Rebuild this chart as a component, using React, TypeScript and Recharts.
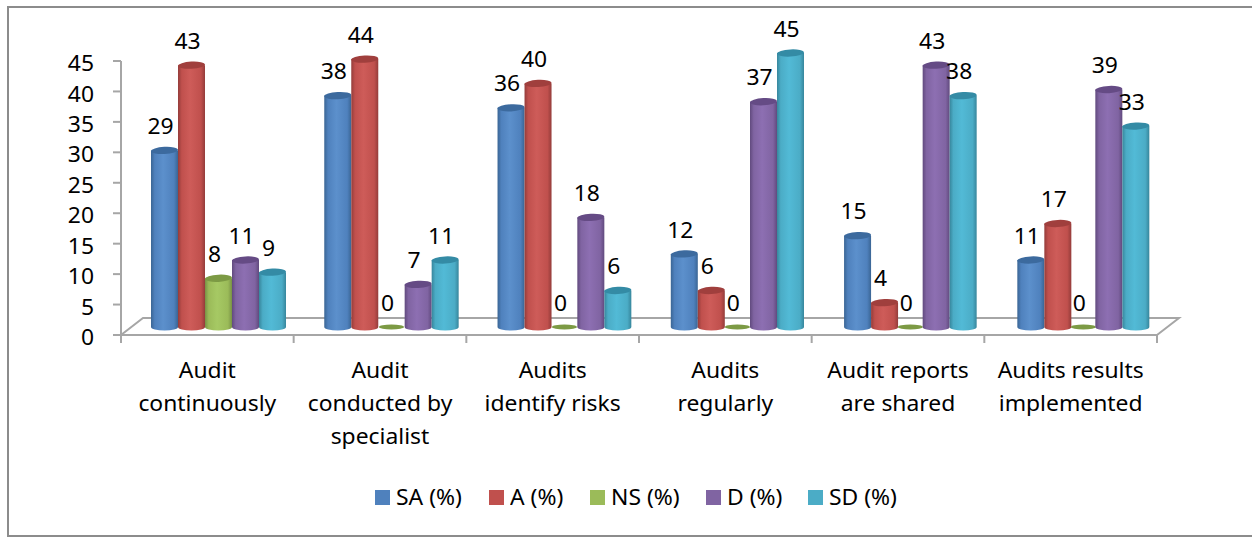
import React from "react";
import { BarChart, Bar, XAxis, YAxis, Legend, LabelList, Customized } from "recharts";

const categories = [
  "Audit\ncontinuously",
  "Audit\nconducted by\nspecialist",
  "Audits\nidentify risks",
  "Audits\nregularly",
  "Audit reports\nare shared",
  "Audits results\nimplemented",
];
const saValues = [29, 38, 36, 12, 15, 11];
const aValues = [43, 44, 40, 6, 4, 17];
const nsValues = [8, 0, 0, 0, 0, 0];
const dValues = [11, 7, 18, 37, 43, 39];
const sdValues = [9, 11, 6, 45, 38, 33];
const yTicks = [0, 5, 10, 15, 20, 25, 30, 35, 40, 45];

const seriesDefs = [
  { key: "sa", name: "SA (%)", values: saValues, color: "#4F81BD", light: "#5C90CC", dark: "#3A6594", top: "#3C6A9E", lean: 0.6 },
  { key: "a", name: "A (%)", values: aValues, color: "#C0504D", light: "#CE5C59", dark: "#943C3A", top: "#A03F3D", lean: 0.6 },
  { key: "ns", name: "NS (%)", values: nsValues, color: "#9BBB59", light: "#A6C964", dark: "#789145", top: "#7C9A44", lean: 0.3 },
  { key: "d", name: "D (%)", values: dValues, color: "#8064A2", light: "#8D6FB2", dark: "#614A7E", top: "#654B85", lean: 0 },
  { key: "sd", name: "SD (%)", values: sdValues, color: "#4BACC6", light: "#52BAD6", dark: "#37869C", top: "#348BA5", lean: 0 },
];

const data = categories.map((name, i) => {
  const row: Record<string, any> = { name };
  seriesDefs.forEach((s) => (row[s.key] = s.values[i]));
  return row;
});

const W = 1252;
const H = 537;
const PLOT = { left: 121, top: 61, right: 1157, bottom: 335 };
const DX = 11;
const DY = -8;
const BACK_X = 22;
const BACK_Y = -17;
const FONT = "'Noto Sans', sans-serif";
const FS = 21;
const SX = 1.09;
const AXIS = "#A6A6A6";
const LEGEND_WIDTHS = [114, 101, 116, 102, 120];

const StretchText = ({ x, y, anchor = "middle", children }: any) => (
  <text
    transform={`translate(${x} ${y}) scale(${SX} 1)`}
    textAnchor={anchor}
    dominantBaseline="central"
    fontFamily={FONT}
    fontSize={FS}
    fill="#000"
  >
    {children}
  </text>
);

const Cylinder = (def: any) => (props: any) => {
  const { x, y, width, height, index } = props;
  const cx = x + width / 2 + DX + def.lean * index;
  const rx = width / 2;
  const ry = 3.6;
  const topY = y + DY;
  const botY = y + height + DY;
  if (!height || height <= 0) {
    return <ellipse cx={cx} cy={botY} rx={rx - 1} ry={2.4} fill={def.top} />;
  }
  return (
    <g>
      <path
        d={`M${cx - rx},${topY} L${cx - rx},${botY} A${rx},${ry} 0 0 0 ${cx + rx},${botY} L${cx + rx},${topY} Z`}
        fill={`url(#grad-${def.key})`}
      />
      <ellipse cx={cx} cy={topY} rx={rx} ry={ry} fill={def.top} transform={`rotate(-3 ${cx} ${topY})`} />
    </g>
  );
};

const BarValueLabel = (def: any) => (props: any) => {
  const { x, y, width, value, index } = props;
  return (
    <StretchText x={x + width / 2 + DX - 4 + def.lean * index} y={y + DY - 24.5}>
      {value}
    </StretchText>
  );
};

const CategoryTick = (props: any) => {
  const { x, y, payload } = props;
  const lines = String(payload.value).split("\n");
  return (
    <g>
      {lines.map((l: string, i: number) => (
        <StretchText key={i} x={x} y={y + 25 + i * 33}>
          {l}
        </StretchText>
      ))}
    </g>
  );
};

const ValueTick = (props: any) => {
  const { y, payload } = props;
  return (
    <StretchText x={94} y={y + 2} anchor="end">
      {payload.value}
    </StretchText>
  );
};

const Floor = () => {
  const { left, right, bottom } = PLOT;
  const step = (right - left) / categories.length;
  return (
    <g>
      <defs>
        {seriesDefs.map((s) => (
          <linearGradient key={s.key} id={`grad-${s.key}`} x1="0" y1="0" x2="1" y2="0">
            <stop offset="0" stopColor={s.dark} />
            <stop offset="0.14" stopColor={s.color} />
            <stop offset="0.45" stopColor={s.light} />
            <stop offset="0.85" stopColor={s.color} />
            <stop offset="1" stopColor={s.dark} />
          </linearGradient>
        ))}
      </defs>
      <polyline
        points={`${left},${bottom} ${left + BACK_X},${bottom + BACK_Y} ${right + BACK_X},${bottom + BACK_Y} ${right},${bottom}`}
        fill="none"
        stroke={AXIS}
        strokeWidth={2}
      />
      {[...categories, ""].map((_, i) => (
        <line
          key={i}
          x1={left + i * step}
          x2={left + i * step}
          y1={bottom}
          y2={bottom + 8}
          stroke={AXIS}
          strokeWidth={2}
        />
      ))}
    </g>
  );
};

const LegendContent = (props: any) => (
  <div style={{ display: "flex", paddingLeft: 375, height: 20, alignItems: "center", fontFamily: FONT, fontSize: FS }}>
    {(props.payload || []).map((p: any, i: number) => (
      <div key={p.value} style={{ display: "flex", alignItems: "center", width: LEGEND_WIDTHS[i], flex: "none" }}>
        <span style={{ width: 15, height: 15, background: p.color, marginRight: 6, display: "inline-block", flex: "none" }} />
        <span
          style={{
            color: "#000",
            lineHeight: "20px",
            whiteSpace: "nowrap",
            display: "inline-block",
            transform: `scaleX(${SX})`,
            transformOrigin: "left center",
          }}
        >
          {p.value}
        </span>
      </div>
    ))}
  </div>
);

export default function App() {
  return (
    <div style={{ position: "absolute", left: 0, top: 0, width: W, height: H, background: "#fff", overflow: "hidden" }}>
      <div style={{ position: "absolute", left: 7, top: 6, right: -6, bottom: 0, border: "2px solid #8C8C8C", boxSizing: "border-box" }} />
      <BarChart
        width={W}
        height={H}
        data={data}
        margin={{ top: PLOT.top, right: W - PLOT.right, left: 0, bottom: 30 }}
        barGap={0}
        barSize={27}
        style={{ position: "absolute", left: 0, top: 0 }}
      >
        <Customized component={Floor} />
        <XAxis
          dataKey="name"
          height={H - PLOT.bottom - 50}
          tick={<CategoryTick />}
          tickLine={false}
          axisLine={{ stroke: AXIS, strokeWidth: 2 }}
          tickSize={8}
          interval={0}
        />
        <YAxis
          width={PLOT.left}
          domain={[0, 45]}
          ticks={yTicks}
          interval={0}
          tick={<ValueTick />}
          tickLine={{ stroke: AXIS, strokeWidth: 2 }}
          axisLine={{ stroke: AXIS, strokeWidth: 2 }}
          tickSize={8}
        />
        <Legend content={<LegendContent />} height={20} itemSorter={null as any} />
        {seriesDefs.map((s) => (
          <Bar key={s.key} dataKey={s.key} name={s.name} fill={s.color} isAnimationActive={false} shape={Cylinder(s)}>
            <LabelList dataKey={s.key} content={BarValueLabel(s)} />
          </Bar>
        ))}
      </BarChart>
    </div>
  );
}
